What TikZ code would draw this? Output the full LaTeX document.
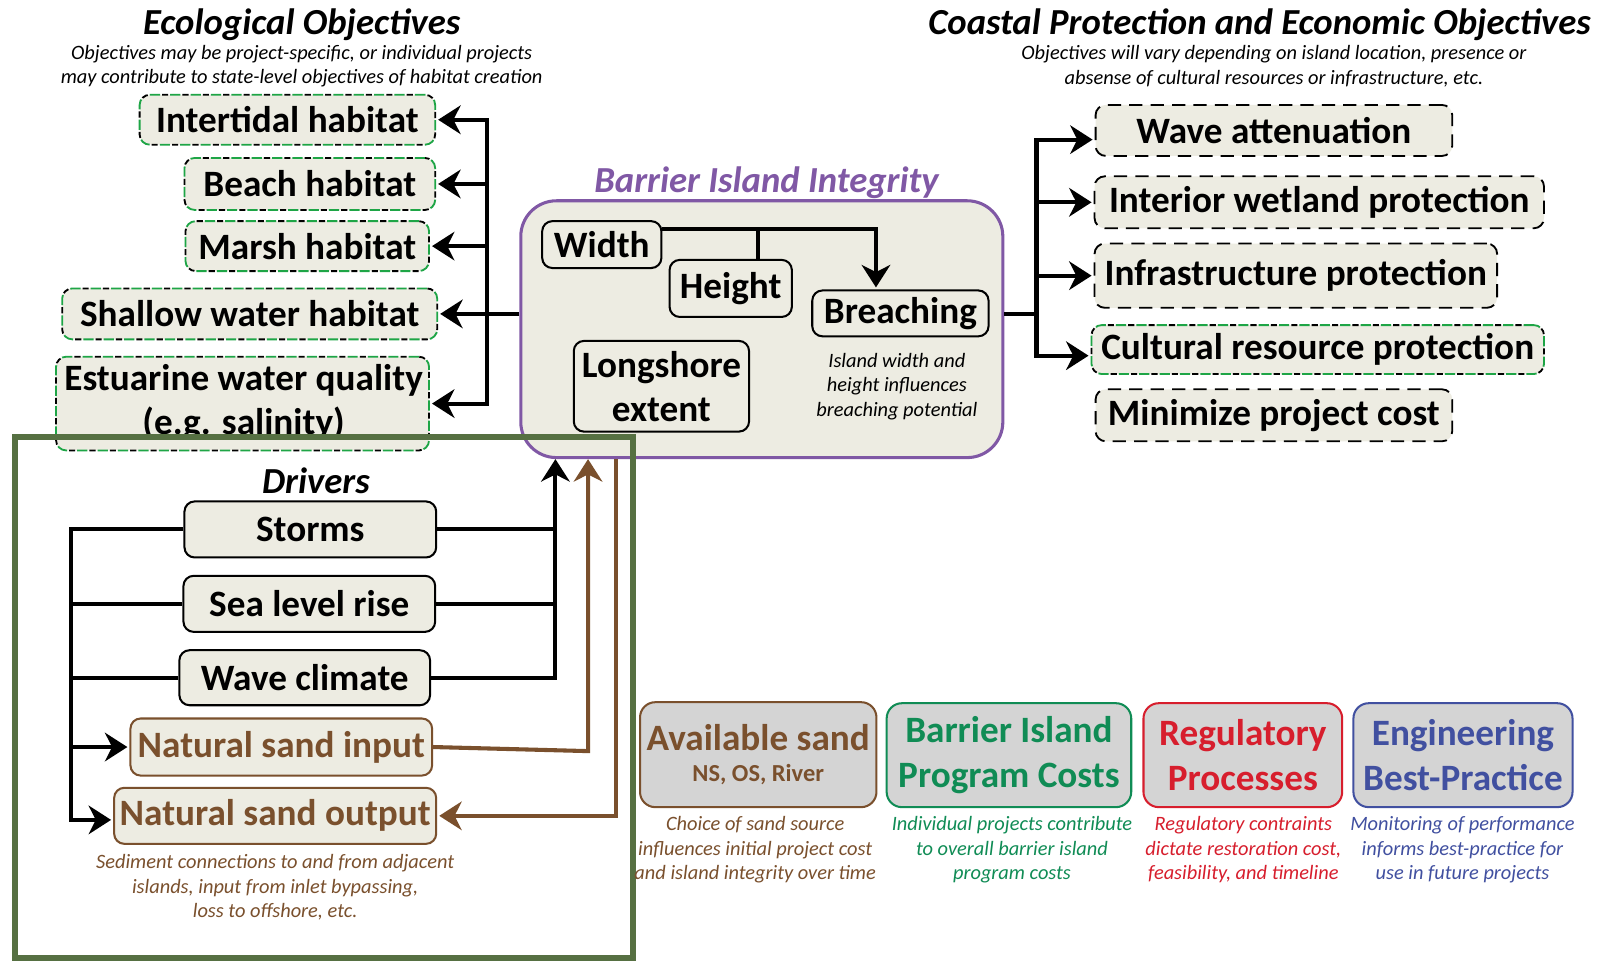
\documentclass[tikz,border=0pt]{standalone}
\usepackage{fontspec}
\setmainfont{Carlito}
\usetikzlibrary{arrows.meta,calc}
\definecolor{beige}{RGB}{237,236,226}
\definecolor{bpurple}{RGB}{128,88,165}
\definecolor{dgreen}{RGB}{86,112,66}
\definecolor{sandbrown}{RGB}{122,80,45}
\definecolor{dashgreen}{RGB}{30,165,70}
\definecolor{pgreen}{RGB}{16,140,85}
\definecolor{rred}{RGB}{215,30,45}
\definecolor{eblue}{RGB}{65,80,160}
\definecolor{lgrey}{RGB}{212,212,212}
\tikzset{
  lbl/.style={font=\bfseries\fontsize{36.5}{43}\selectfont, inner sep=0pt, align=center},
  ttl/.style={font=\bfseries\itshape\fontsize{36}{40}\selectfont, inner sep=0pt},
  sub/.style={font=\itshape\fontsize{20}{24}\selectfont, inner sep=0pt, align=center},
  ecobox/.style={lbl, rounded corners=10pt, fill=beige, draw=dashgreen, line width=1.8pt,
    dash pattern=on 10pt off 10pt,
    postaction={draw=black, line width=1.8pt, dash pattern=on 6pt off 14pt, dash phase=-12pt}},
  cbox/.style={lbl, rounded corners=10pt, fill=beige, draw=black, line width=1.8pt, dash pattern=on 13pt off 8pt},
  ibox/.style={lbl, rounded corners=10pt, fill=beige, draw=black, line width=2pt},
  sbox/.style={lbl, rounded corners=10pt, fill=beige, draw=sandbrown, text=sandbrown, line width=2pt},
  gbox/.style={lbl, font=\bfseries\fontsize{36.5}{44}\selectfont, rounded corners=15pt, fill=lgrey, line width=2pt},
  conn/.style={line width=4pt, draw=black, line join=miter},
  bconn/.style={line width=4pt, draw=sandbrown, line join=miter},
  arr/.style={-{Stealth[length=22pt,width=28pt,inset=7pt]}},
}
\begin{document}
\begin{tikzpicture}[x=1pt,y=-1pt]
\useasboundingbox (0,0) rectangle (1568,945);
\fill[white] (0,0) rectangle (1568,945);

% titles
\node[ttl] (eot) at (296,24) {Ecological Objectives};
\node[sub] (eos) at (296,65) {Objectives may be project-specific, or individual projects\\may contribute to state-level objectives of habitat creation};
\node[ttl] (cot) at (1236,24) {Coastal Protection and Economic Objectives};
\node[sub] (cos) at (1250,65) {Objectives will vary depending on island location, presence or\\absense of cultural resources or infrastructure, etc.};

% ecological boxes
\node[ecobox, minimum width=290pt, minimum height=49pt] (it) at (282,117.5) {Intertidal habitat};
\node[ecobox, minimum width=246pt, minimum height=51pt] (bh) at (304,180.5) {Beach habitat};
\node[ecobox, minimum width=239pt, minimum height=49pt] (mh) at (301.5,241.5) {Marsh habitat};
\node[ecobox, minimum width=368pt, minimum height=50pt] (sh) at (245,308) {Shallow water habitat};
\node[ecobox, minimum width=366pt, minimum height=92pt] (est) at (238,396) {};
\begin{scope}
\clip (0,0) rectangle (1568,431);
\node[lbl] (estt) at (239,395) {Estuarine water quality\\(e.g. salinity)};
\end{scope}

% coastal boxes
\node[cbox, minimum width=350pt, minimum height=50pt] (wa) at (1250,128) {Wave attenuation};
\node[cbox, minimum width=441pt, minimum height=51pt] (iw) at (1294.5,198.5) {Interior wetland protection};
\node[cbox, minimum width=395pt, minimum height=63pt] (ip) at (1271.5,270.5) {Infrastructure protection};
\node[ecobox, minimum width=444pt, minimum height=48pt] (cr) at (1293,343) {Cultural resource protection};
\node[cbox, minimum width=350pt, minimum height=51pt] (mc) at (1250,407.5) {Minimize project cost};

% barrier island integrity
\node[ttl, text=bpurple] (biit) at (752,179) {Barrier Island Integrity};
\node[draw=bpurple, fill=beige, line width=3pt, rounded corners=35pt, minimum width=473pt, minimum height=252pt] (bii) at (747.5,323) {};
\node[ibox, minimum width=117pt, minimum height=46pt] (wd) at (590.5,240) {Width};
\node[ibox, minimum width=120pt, minimum height=56pt] (ht) at (717,283) {Height};
\node[ibox, minimum width=173pt, minimum height=45pt] (br) at (883.5,307.5) {Breaching};
\node[ibox, minimum width=172pt, minimum height=89pt] (le) at (649,379) {Longshore\\extent};
\node[sub] (brn) at (880,379) {Island width and\\height influences\\breaching potential};

\coordinate (wj) at ($(wd.north east)+(0,9)$);
\coordinate (hj) at ($(ht.north)+(27,0)$);
\coordinate (bj) at ($(br.north)+(-24,0)$);
\draw[conn,arr,shorten >=2pt] (wj) -| (bj);
\draw[conn] (hj |- wj) -- (hj);

% left bus
\coordinate (lbus) at (478,0);
\draw[conn,arr,shorten >=2pt] (bii.west |- sh.east) -- (sh.east);
\draw[conn,line cap=rect] (lbus |- it.east) -- (lbus |- est.east);
\draw[conn,arr,shorten >=2pt] (lbus |- it.east) -- (it.east);
\draw[conn,arr,shorten >=2pt] (lbus |- bh.east) -- (bh.east);
\draw[conn,arr,shorten >=2pt] (lbus |- mh.east) -- (mh.east);
\draw[conn,arr,shorten >=2pt] (lbus |- est.east) -- (est.east);

% right bus
\coordinate (rbus) at (1017,0);
\coordinate (wat) at ($(wa.west)+(0,9)$);
\coordinate (crt) at ($(cr.west)+(0,6)$);
\draw[conn] (bii.east |- sh.east) -- (rbus |- sh.east);
\draw[conn,line cap=rect] (rbus |- wat) -- (rbus |- crt);
\draw[conn,arr,shorten >=2pt] (rbus |- wat) -- (wat);
\draw[conn,arr,shorten >=2pt] (rbus |- iw.west) -- (iw.west);
\draw[conn,arr,shorten >=2pt] (rbus |- ip.west) -- (ip.west);
\draw[conn,arr,shorten >=2pt] (rbus |- crt) -- (crt);

% drivers
\node[ttl] (drv) at (310,472) {Drivers};
\node[ibox, minimum width=247pt, minimum height=55pt] (st) at (304.5,519.5) {Storms};
\node[ibox, minimum width=247pt, minimum height=55pt] (sl) at (303.5,592.5) {Sea level rise};
\node[ibox, minimum width=246pt, minimum height=54pt] (wc) at (299,665) {Wave climate};
\node[sbox, minimum width=296pt, minimum height=56pt] (nsi) at (276,733) {Natural sand input};
\node[sbox, minimum width=316pt, minimum height=55pt] (nso) at (270,800.5) {Natural sand output};
\node[sub, text=sandbrown] (sedc) at (270,871) {Sediment connections to and from adjacent\\islands, input from inlet bypassing,\\loss to offshore, etc.};

\coordinate (dlb) at (70,0);
\coordinate (nsot) at ($(nso.west)+(0,4)$);
\draw[conn,arr,shorten >=2pt] (st.west) -- (dlb |- st.west) -- (dlb |- nsot) -- (nsot);
\draw[conn] (sl.west) -- (dlb |- sl.west);
\draw[conn] (wc.west) -- (dlb |- wc.west);
\draw[conn,arr,shorten >=2pt] (dlb |- nsi.west) -- (nsi.west);

\coordinate (drb) at (545,0);
\draw[conn,arr] (wc.east) -- (drb |- wc.east) -- (drb |- bii.south);
\draw[conn] (st.east) -- (drb |- st.east);
\draw[conn] (sl.east) -- (drb |- sl.east);

\coordinate (bx1) at (577,0);
\coordinate (bx2) at (604,0);
\draw[bconn,arr] (nsi.east) -- ($(bx1 |- nsi.east)+(0,4)$) -- (bx1 |- bii.south);
\draw[bconn,arr,shorten >=2pt] (bx2 |- bii.south) -- (bx2 |- nso.east) -- (nso.east);

% drivers frame
\node[draw=dgreen, line width=6pt, minimum width=606pt, minimum height=511pt, inner sep=0pt] (dframe) at (318,684.5) {};

% bottom boxes
\node[gbox, draw=sandbrown, text=sandbrown, minimum width=232pt, minimum height=103pt] (as) at (744,740.5) {Available sand\\[-14pt]{\fontsize{24}{28}\selectfont NS, OS, River}};
\node[gbox, draw=pgreen, text=pgreen, minimum width=240pt, minimum height=102pt] (bp) at (990,741) {Barrier Island\\Program Costs};
\node[gbox, draw=rred, text=rred, minimum width=195pt, minimum height=102pt] (rp) at (1219.5,741) {Regulatory\\Processes};
\node[gbox, draw=eblue, text=eblue, minimum width=215pt, minimum height=102pt] (eb) at (1435.5,741) {Engineering\\Best-Practice};

\node[sub, text=sandbrown] (asc) at (741,834) {Choice of sand source\\influences initial project cost\\and island integrity over time};
\node[sub, text=pgreen] (bpc) at (993,834) {Individual projects contribute\\to overall barrier island\\program costs};
\node[sub, text=rred] (rpc) at (1220,834) {Regulatory contraints\\dictate restoration cost,\\feasibility, and timeline};
\node[sub, text=eblue] (ebc) at (1435,834) {Monitoring of performance\\informs best-practice for\\use in future projects};
\end{tikzpicture}
\end{document}
